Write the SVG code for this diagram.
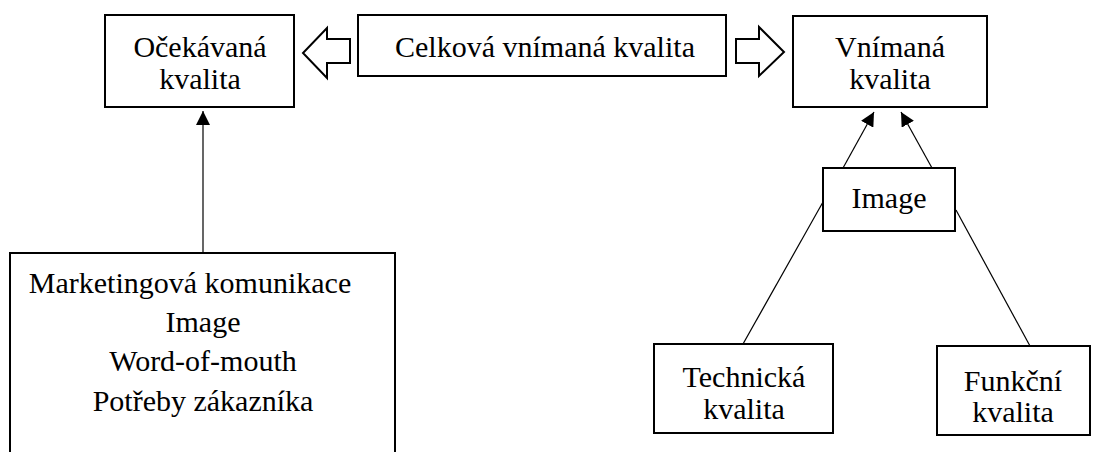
<svg xmlns="http://www.w3.org/2000/svg" width="1100" height="452" viewBox="0 0 1100 452">
<style>
.box{fill:#fff;stroke:#000;stroke-width:2}
.t{font-family:'Liberation Serif','Times New Roman',serif;font-size:30px;fill:#000;text-anchor:middle}
.c{stroke:#000;stroke-width:1.2;fill:none}
.h{fill:#fff;stroke:#000;stroke-width:2;stroke-linejoin:miter}
</style>
<defs>
<marker id="ah" viewBox="0 0 10 10" refX="10" refY="5" markerWidth="14" markerHeight="14" markerUnits="userSpaceOnUse" orient="auto">
<path d="M0,0 L10,5 L0,10 z" fill="#000"/>
</marker>
</defs>
<rect width="1100" height="452" fill="#fff"/>
<g id="connectors">
<line class="c" x1="203" y1="253" x2="203" y2="111" marker-end="url(#ah)"/>
<line class="c" x1="843" y1="168" x2="874" y2="112" marker-end="url(#ah)"/>
<line class="c" x1="932" y1="168" x2="901" y2="112" marker-end="url(#ah)"/>
<line class="c" x1="823" y1="202" x2="743" y2="344"/>
<line class="c" x1="956" y1="210" x2="1030" y2="346"/>
<polygon class="h" points="350,39 327,39 327,28 303,53 327,78 327,63 350,63"/>
<polygon class="h" points="736,39 759,39 759,27 784,52 759,76 759,63 736,63"/>
</g>
<g id="ocekavana">
<rect class="box" x="105" y="15" width="189" height="92"/>
<text class="t" x="200" y="57">Očekávaná</text>
<text class="t" x="200" y="89">kvalita</text>
</g>
<g id="celkova">
<rect class="box" x="358" y="15" width="368" height="61"/>
<text class="t" x="545" y="57">Celková vnímaná kvalita</text>
</g>
<g id="vnimana">
<rect class="box" x="793" y="16" width="194" height="91"/>
<text class="t" x="890" y="57">Vnímaná</text>
<text class="t" x="890" y="89">kvalita</text>
</g>
<g id="image">
<rect class="box" x="823" y="168" width="132" height="63"/>
<text class="t" x="889" y="208">Image</text>
</g>
<g id="faktory">
<rect class="box" x="10" y="253" width="385" height="210"/>
<text class="t" x="190" y="293">Marketingová komunikace</text>
<text class="t" x="203" y="332">Image</text>
<text class="t" x="203" y="371">Word-of-mouth</text>
<text class="t" x="203" y="411">Potřeby zákazníka</text>
</g>
<g id="technicka">
<rect class="box" x="654" y="344" width="179" height="89"/>
<text class="t" x="744" y="387">Technická</text>
<text class="t" x="744" y="419">kvalita</text>
</g>
<g id="funkcni">
<rect class="box" x="937" y="346" width="153" height="89"/>
<text class="t" x="1013" y="391">Funkční</text>
<text class="t" x="1013" y="422">kvalita</text>
</g>
</svg>
